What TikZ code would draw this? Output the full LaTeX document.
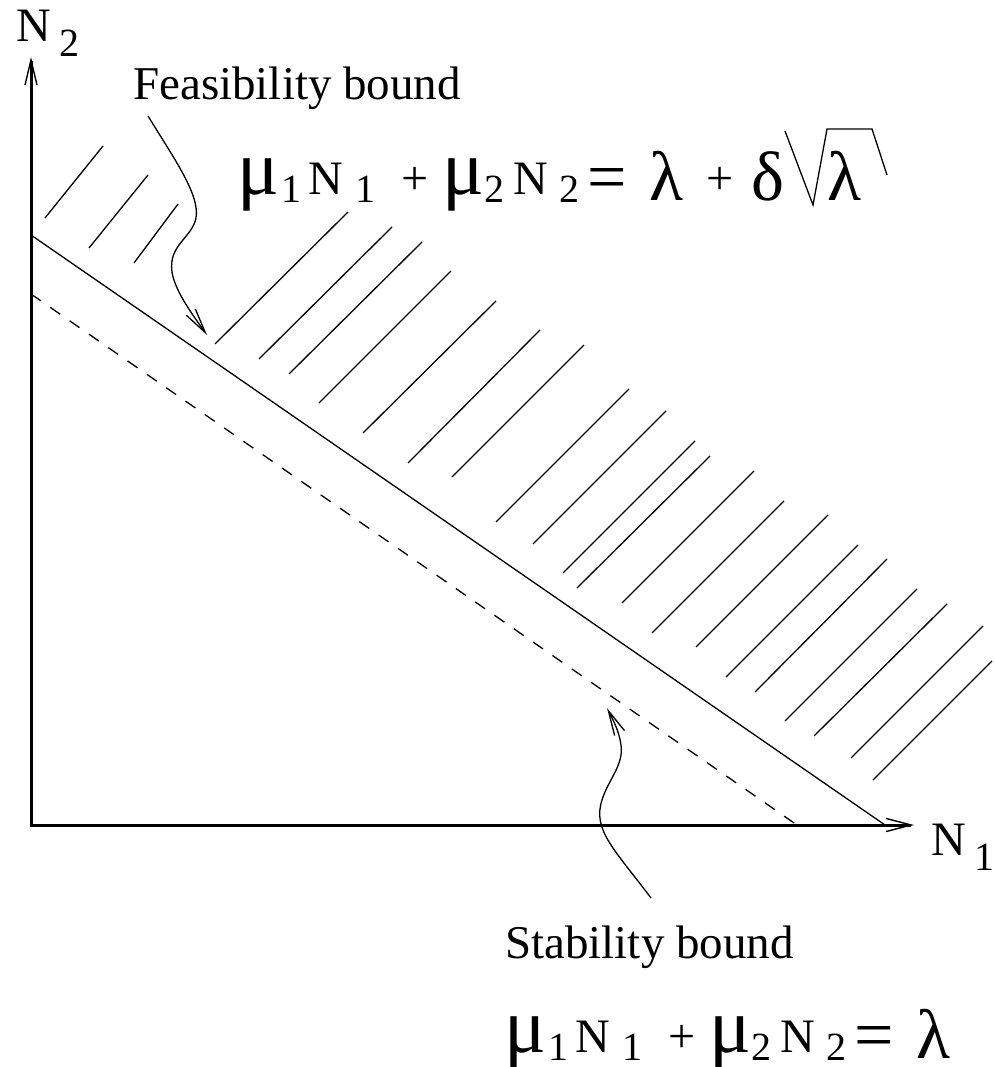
\documentclass[tikz,border=0pt]{standalone}
\usepackage{fontspec}
\setmainfont{Liberation Serif}
\usetikzlibrary{arrows.meta}
\newcommand{\gbox}[2]{\makebox[#1pt][l]{#2}}
\newcommand{\fmu}{\fontsize{78}{78}\selectfont}
\newcommand{\fbig}{\fontsize{70}{70}\selectfont}
\newcommand{\fN}{\fontsize{48}{48}\selectfont}
\newcommand{\fsub}{\fontsize{40}{40}\selectfont}
\newcommand{\fplus}{\fontsize{48}{48}\selectfont}
\newcommand{\lowsub}[1]{\raisebox{-8pt}{\fsub #1}}
\newcommand{\lowgr}[1]{\raisebox{-6pt}{\fbig #1}}
\begin{document}
\begin{tikzpicture}[x=1pt,y=-1pt,
  thinline/.style={line width=1.3pt},
  hatch/.style={line width=1.3pt},
  dashline/.style={line width=1.3pt, dash pattern=on 12pt off 11.5pt},
  axis/.style={line width=3pt,
    {Straight Barb[length=25pt,width=12pt,line width=1.4pt]}-{Straight Barb[length=25pt,width=13pt,line width=1.4pt]}},
  pointer/.style={line width=1.3pt, -{Straight Barb[length=25pt,width=11pt,line width=1.3pt]}},
  lbl/.style={inner sep=0pt, anchor=base west, font=\fontsize{47}{50}\selectfont},
  eq/.style={inner sep=0pt, anchor=base west}]
\useasboundingbox (0,0) rectangle (994,1067);

% axes
\coordinate (O) at (31,825);
\coordinate (ytip) at (31,57);
\coordinate (xtip) at (914,825);
\draw[axis] (ytip) -- (O) -- (xtip);

% bounds
\coordinate (fa) at (31,235);
\coordinate (fb) at (885,825);
\coordinate (sa) at (31,294);
\coordinate (sb) at (797,825);
\draw[thinline] (fa) -- (fb);
\draw[dashline] (sa) -- (sb);

% hatching
\foreach \a/\b/\c/\d in {45/218/103/146, 89/248/148/175, 134/263/178/204,
  215/344/348/212, 259/359/392/227, 289/374/422/242, 319/403/451/271,
  363/433/496/301, 408/463/540/330, 452/477/584/345, 496/522/629/389,
  533/544/666/411, 563/573/695/441, 577/588/710/456, 622/603/754/471,
  652/633/784/501, 696/647/828/515, 726/677/858/545, 755/692/887/559,
  785/721/917/589, 814/736/947/604, 851/758/983/626, 873/780/992/661}
  \draw[hatch] (\a,\b) -- (\c,\d);

% axis labels
\node[eq] (n2lab) at (16,42) {\gbox{43}{\fN N}\raisebox{-15pt}{\fsub 2}};
\node[eq] (n1lab) at (931,855) {\gbox{43}{\fN N}\raisebox{-15pt}{\fsub 1}};

% texts
\node[lbl] (feas) at (133,100) {Feasibility bound};
\node[lbl] (stab) at (505,958) {Stability bound};

\node[eq] (eqtop) at (237,195) {\gbox{44}{\fmu μ}\gbox{27}{\lowsub{1}}\gbox{47}{\fN N}\gbox{46}{\lowsub{1}}\gbox{41}{\fplus +}\gbox{42}{\fmu μ}\gbox{29}{\lowsub{2}}\gbox{46}{\fN N}\gbox{28}{\lowsub{2}}\gbox{62}{\raisebox{-6pt}{\fbig =}}\gbox{57}{\lowgr{λ}}\gbox{45}{\fplus +}\gbox{76}{\lowgr{δ}}\lowgr{λ}};
\draw[thinline] (785,131) -- (813,205) -- (827,129) -- (872,129) -- (887,175);

\node[eq] (eqbot) at (504,1052) {\gbox{44}{\fmu μ}\gbox{27}{\lowsub{1}}\gbox{47}{\fN N}\gbox{46}{\lowsub{1}}\gbox{41}{\fplus +}\gbox{42}{\fmu μ}\gbox{29}{\lowsub{2}}\gbox{46}{\fN N}\gbox{28}{\lowsub{2}}\gbox{62}{\raisebox{-6pt}{\fbig =}}\lowgr{λ}};

% pointers
\coordinate (fstart) at (148,116);
\coordinate (ftip) at (207,335);
\draw[pointer] (fstart) .. controls (175,160) and (200,195) .. (196,218)
  .. controls (192,238) and (168,245) .. (172,272)
  .. controls (175,292) and (195,318) .. (ftip);
\coordinate (sstart) at (651,898);
\coordinate (stip) at (607,708);
\draw[pointer] (sstart) .. controls (615,850) and (592,830) .. (602,800)
  .. controls (608,780) and (624,765) .. (621,745)
  .. controls (619,730) and (612,718) .. (stip);
\end{tikzpicture}
\end{document}
